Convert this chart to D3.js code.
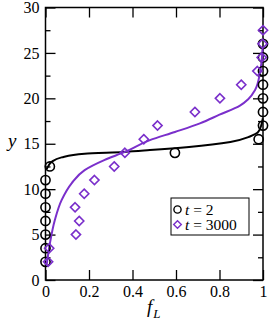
<!DOCTYPE html>
<html>
<head>
<meta charset="utf-8">
<script src="https://cdn.jsdelivr.net/npm/d3@7"></script>
<style>
  body { margin: 0; background: #fff; }
  svg text { font-family: 'Liberation Serif', 'DejaVu Serif', serif; }
</style>
</head>
<body>
<svg id="chart" width="270" height="326"></svg>
<script>
// t = 2 data points [fL, y]
const pointsT2 = [
  [0, 2], [0, 3.5], [0, 5], [0, 6.5], [0, 8], [0, 9.5], [0, 11],
  [0.02, 12.5], [0.595, 14], [0.98, 15.5],
  [1, 17], [1, 18.5], [1, 20], [1, 21.5], [1, 23], [1, 24.5], [1, 26]
]
// t = 3000 data points [fL, y]
const pointsT3000 = [
  [0.012, 2], [0.017, 3.5], [0.14, 5], [0.155, 6.5], [0.136, 8], [0.178, 9.5],
  [0.225, 11], [0.316, 12.5], [0.365, 14], [0.452, 15.5], [0.515, 17],
  [0.687, 18.5], [0.802, 20], [0.90, 21.5], [0.974, 23], [0.994, 24.5],
  [0.998, 26], [1, 27.5]
]
// fitted curves [fL, y]
const curveT2 = [
  [0.005, 12.2], [0.012, 12.5], [0.028, 13.0], [0.074, 13.5], [0.18, 13.9],
  [0.36, 14.1], [0.48, 14.3], [0.66, 14.65], [0.85, 15.2], [0.94, 15.8],
  [0.978, 16.3], [0.994, 17.2], [0.999, 17.8]
]
const curveT3000 = [
  [0.005, 1.6], [0.02, 4.0], [0.043, 6.6], [0.074, 8.8], [0.12, 10.65],
  [0.18, 12.1], [0.27, 13.2], [0.365, 14.1], [0.48, 15.4], [0.595, 16.3],
  [0.71, 17.25], [0.8, 18.2], [0.894, 19.2], [0.932, 19.9], [0.963, 20.9],
  [0.986, 22.8], [0.994, 24.2], [0.998, 25.5]
]
const xTicks = [0, 0.2, 0.4, 0.6, 0.8, 1]
const yTicks = [0, 5, 10, 15, 20, 25, 30]
const yMinorTicks = [2.5, 7.5, 12.5, 17.5, 22.5, 27.5]
const legendLabels = ['2', '3000']

const purple = '#7a2fcb'
const margin = { top: 7.5, right: 7, bottom: 46, left: 45.5 }
const width = 270
const height = 326

const svg = d3.select('#chart')

const x = d3.scaleLinear()
  .domain([0, 1])
  .range([margin.left, width - margin.right])

const y = d3.scaleLinear()
  .domain([0, 30])
  .range([height - margin.bottom, margin.top])

const major = 10
const minor = 5

// frame
svg.append('rect')
  .attr('x', x(0))
  .attr('y', y(30))
  .attr('width', x(1) - x(0))
  .attr('height', y(0) - y(30))
  .attr('fill', 'none')
  .attr('stroke', '#000')
  .attr('stroke-width', 1.5)

const fmtX = d => d === 0 ? '0' : d === 1 ? '1' : d3.format('.1f')(d)

const xAxis = g => g
  .attr('transform', `translate(0,${y(0)})`)
  .call(d3.axisBottom(x).tickValues(xTicks).tickSize(-major).tickPadding(6).tickFormat(fmtX))

const xTop = g => g
  .attr('transform', `translate(0,${y(30)})`)
  .call(d3.axisTop(x).tickValues(xTicks).tickSize(-major).tickFormat(''))

const yAxis = g => g
  .attr('transform', `translate(${x(0)},0)`)
  .call(d3.axisLeft(y).tickValues(yTicks).tickSize(-major).tickPadding(6))

const yMinor = g => g
  .attr('transform', `translate(${x(0)},0)`)
  .call(d3.axisLeft(y).tickValues(yMinorTicks).tickSize(-minor).tickFormat(''))

const yRight = g => g
  .attr('transform', `translate(${x(1)},0)`)
  .call(d3.axisRight(y).tickValues(yTicks).tickSize(-major).tickFormat(''))

const yRightMinor = g => g
  .attr('transform', `translate(${x(1)},0)`)
  .call(d3.axisRight(y).tickValues(yMinorTicks).tickSize(-minor).tickFormat(''))

;[xAxis, xTop, yAxis, yMinor, yRight, yRightMinor].forEach(a => {
  const g = svg.append('g').call(a)
  g.select('.domain').remove()
  g.selectAll('line').attr('stroke', '#000').attr('stroke-width', 1.3)
  g.selectAll('text')
    .attr('fill', '#000')
    .style('font-size', '16px')
    .style('font-family', "'Liberation Serif', serif")
})

// curves
const line = d3.line()
  .x(d => x(d[0]))
  .y(d => y(d[1]))
  .curve(d3.curveMonotoneY)

svg.append('path')
  .datum(curveT2)
  .attr('d', line)
  .attr('fill', 'none')
  .attr('stroke', '#000')
  .attr('stroke-width', 2)

svg.append('path')
  .datum(curveT3000)
  .attr('d', line)
  .attr('fill', 'none')
  .attr('stroke', purple)
  .attr('stroke-width', 2)

// markers
const r = 4.6
const diamond = (cx, cy) => `M${cx},${cy - r}L${cx + r},${cy}L${cx},${cy + r}L${cx - r},${cy}Z`

svg.append('g')
  .selectAll('circle')
  .data(pointsT2)
  .enter()
  .append('circle')
  .attr('cx', d => x(d[0]))
  .attr('cy', d => y(d[1]))
  .attr('r', r)
  .attr('fill', 'none')
  .attr('stroke', '#000')
  .attr('stroke-width', 1.6)

svg.append('g')
  .selectAll('path')
  .data(pointsT3000)
  .enter()
  .append('path')
  .attr('d', d => diamond(x(d[0]), y(d[1])))
  .attr('fill', 'none')
  .attr('stroke', purple)
  .attr('stroke-width', 1.6)

// axis labels
svg.append('text')
  .attr('x', 8)
  .attr('y', 147)
  .style('font-size', '19px')
  .style('font-style', 'italic')
  .text('y')

const fl = svg.append('text')
  .attr('x', 147)
  .attr('y', 313)
  .style('font-size', '19px')
  .style('font-style', 'italic')
fl.append('tspan').text('f')
fl.append('tspan')
  .attr('dx', 1)
  .attr('dy', 5)
  .style('font-size', '13px')
  .text('L')

// legend
const legend = svg.append('g')
legend.append('rect')
  .attr('x', 171)
  .attr('y', 198)
  .attr('width', 78)
  .attr('height', 37)
  .attr('fill', '#fff')
  .attr('stroke', '#000')
  .attr('stroke-width', 1)

legend.append('circle')
  .attr('cx', 177.5)
  .attr('cy', 209.5)
  .attr('r', 3.6)
  .attr('fill', 'none')
  .attr('stroke', '#000')
  .attr('stroke-width', 1.4)

legend.append('path')
  .attr('d', `M177.5,${224.5 - 3.8}L${177.5 + 3.8},224.5L177.5,${224.5 + 3.8}L${177.5 - 3.8},224.5Z`)
  .attr('fill', 'none')
  .attr('stroke', purple)
  .attr('stroke-width', 1.4)

legendLabels.forEach((lab, i) => {
  const t = legend.append('text')
    .attr('x', 185)
    .attr('y', 214.5 + i * 15.5)
    .style('font-size', '15.5px')
  t.append('tspan').style('font-style', 'italic').text('t')
  t.append('tspan').text(' = ' + lab)
})
</script>
</body>
</html>
